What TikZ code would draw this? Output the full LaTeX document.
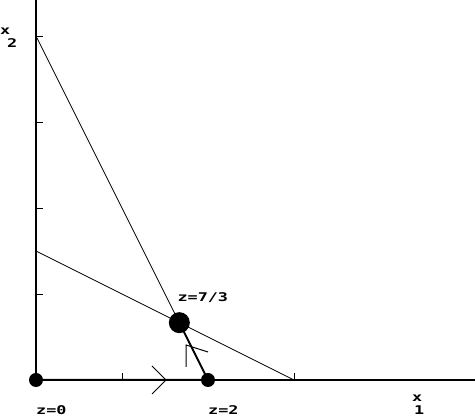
\documentclass[tikz,border=0pt]{standalone}
\usepackage{fontspec}
\newfontfamily\plotfont{DejaVu Sans Mono Bold}[FakeStretch=1.4]
\usetikzlibrary{positioning}

\tikzset{
  axis/.style={line width=2pt},
  constr/.style={line width=0.8pt},
  route/.style={line width=2pt},
  vertex/.style={circle,fill=black,inner sep=0pt,minimum size=14pt},
  optimum/.style={circle,fill=black,inner sep=0pt,minimum size=21pt},
  lbl/.style={font=\plotfont\fontsize{12}{13}\selectfont,inner sep=0pt,anchor=base west},
  chev/.style={line width=1pt},
}

\begin{document}
\begin{tikzpicture}[x=86pt,y=86pt]
  \useasboundingbox (-36pt,-37pt) rectangle (439pt,380pt);
  \coordinate (o) at (0,0);
  \coordinate (two) at (2,0);
  \coordinate (opt) at (5/3,2/3);
  \coordinate (aup) at (0,4);
  \coordinate (bup) at (0,1.5);
  \coordinate (bdown) at (3,0);
  % axes and ticks
  \draw[axis] (o) -- (439pt,0);
  \draw[axis] (o) -- (0,380pt);
  \foreach \t in {1,2,3} \draw[constr] (\t,0) -- (\t,7pt);
  \foreach \t in {1,...,4} \draw[constr] (0,\t) -- (7pt,\t);
  % constraints
  \draw[constr] (aup) -- (two);
  \draw[constr] (bup) -- (bdown);
  % path of the method
  \draw[route] (o) -- (two) -- (opt);
  \draw[chev] (116pt,14pt) -- (130pt,0) -- (116pt,-14pt);
  \draw[chev] (150pt,13pt) -- (150pt,35pt) -- (172pt,28pt);
  % vertices
  \node[vertex] (zzero) at (o) {};
  \node[vertex] (ztwo) at (two) {};
  \node[optimum] (zopt) at (opt) {};
  \node[lbl] (lzero) at ([yshift=-34.5pt]zzero.center) {z=0};
  \node[lbl] (ltwo) at ([yshift=-34.5pt]ztwo.center) {z=2};
  \node[lbl] (lopt) at ([xshift=-2pt,yshift=21pt]zopt.center) {z=7/3};
  % axis names
  \node[lbl] (xone) at (376pt,-22pt) {x};
  \node[lbl] (xonesub) at ([xshift=2pt,yshift=-13pt]xone.base west) {1};
  \node[lbl] (xtwo) at (-36pt,345pt) {x};
  \node[lbl] (xtwosub) at ([xshift=7pt,yshift=-13pt]xtwo.base west) {2};
\end{tikzpicture}
\end{document}
